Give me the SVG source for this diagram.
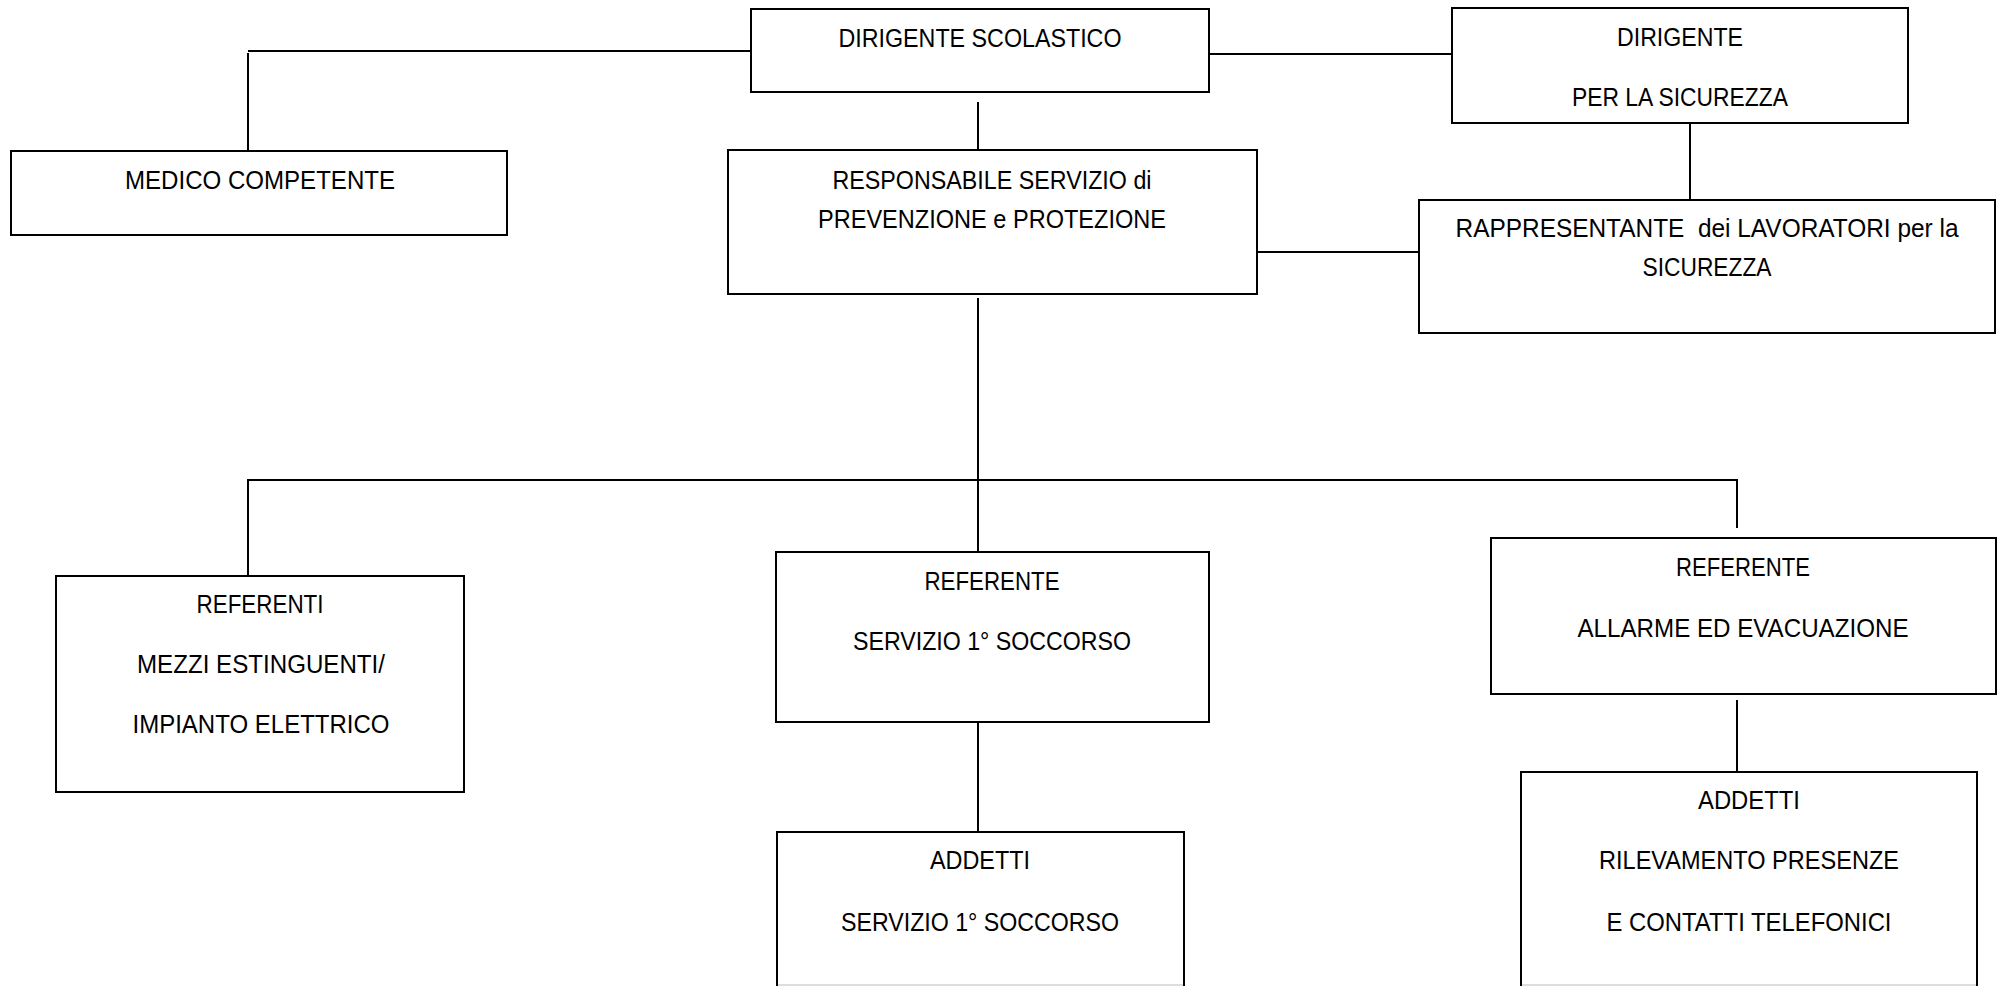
<svg xmlns="http://www.w3.org/2000/svg" width="2004" height="986" viewBox="0 0 2004 986">
<style>
.box{fill:#fff;stroke:#000;stroke-width:2}
.ln{stroke:#000;stroke-width:2;fill:none}
.t{font-family:"Liberation Sans",Arial,sans-serif;font-size:26px;fill:#000;text-anchor:middle}
.edge{stroke:#ddd;stroke-width:2}
</style>
<rect width="2004" height="986" fill="#fff"/>
<g id="connectors">
<path class="ln" d="M751 51 H248 M248 53 V151"/>
<path class="ln" d="M1209 54 H1452"/>
<path class="ln" d="M978 102 V150"/>
<path class="ln" d="M1690 123 V200"/>
<path class="ln" d="M1257 252 H1419"/>
<path class="ln" d="M978 298 V552"/>
<path class="ln" d="M248 576 V480 H1737 V528"/>
<path class="ln" d="M978 722 V832"/>
<path class="ln" d="M1737 700 V772"/>
</g>
<g id="dirigente-scolastico">
<rect class="box" x="751" y="9" width="458" height="83"/>
<text class="t" x="980" y="47" textLength="283" lengthAdjust="spacingAndGlyphs">DIRIGENTE SCOLASTICO</text>
</g>
<g id="dirigente-sicurezza">
<rect class="box" x="1452" y="8" width="456" height="115"/>
<text class="t" x="1680" y="46" textLength="126" lengthAdjust="spacingAndGlyphs">DIRIGENTE</text>
<text class="t" x="1680" y="106" textLength="216" lengthAdjust="spacingAndGlyphs">PER LA SICUREZZA</text>
</g>
<g id="medico-competente">
<rect class="box" x="11" y="151" width="496" height="84"/>
<text class="t" x="260" y="189" textLength="270" lengthAdjust="spacingAndGlyphs">MEDICO COMPETENTE</text>
</g>
<g id="rspp">
<rect class="box" x="728" y="150" width="529" height="144"/>
<text class="t" x="992" y="189" textLength="319" lengthAdjust="spacingAndGlyphs">RESPONSABILE SERVIZIO di</text>
<text class="t" x="992" y="228" textLength="348" lengthAdjust="spacingAndGlyphs">PREVENZIONE e PROTEZIONE</text>
</g>
<g id="rls">
<rect class="box" x="1419" y="200" width="576" height="133"/>
<text class="t" x="1707" y="237" textLength="503" lengthAdjust="spacingAndGlyphs" xml:space="preserve">RAPPRESENTANTE  dei LAVORATORI per la</text>
<text class="t" x="1707" y="276" textLength="129" lengthAdjust="spacingAndGlyphs">SICUREZZA</text>
</g>
<g id="referenti-mezzi">
<rect class="box" x="56" y="576" width="408" height="216"/>
<text class="t" x="260" y="613" textLength="127" lengthAdjust="spacingAndGlyphs">REFERENTI</text>
<text class="t" x="261" y="673" textLength="248" lengthAdjust="spacingAndGlyphs">MEZZI ESTINGUENTI/</text>
<text class="t" x="261" y="733" textLength="257" lengthAdjust="spacingAndGlyphs">IMPIANTO ELETTRICO</text>
</g>
<g id="referente-soccorso">
<rect class="box" x="776" y="552" width="433" height="170"/>
<text class="t" x="992" y="590" textLength="135" lengthAdjust="spacingAndGlyphs">REFERENTE</text>
<text class="t" x="992" y="650" textLength="278" lengthAdjust="spacingAndGlyphs">SERVIZIO 1° SOCCORSO</text>
</g>
<g id="referente-allarme">
<rect class="box" x="1491" y="538" width="505" height="156"/>
<text class="t" x="1743" y="576" textLength="134" lengthAdjust="spacingAndGlyphs">REFERENTE</text>
<text class="t" x="1743" y="637" textLength="331" lengthAdjust="spacingAndGlyphs">ALLARME ED EVACUAZIONE</text>
</g>
<g id="addetti-soccorso">
<path class="ln" d="M777 990 V832 H1184 V990"/>
<line class="edge" x1="778" y1="985" x2="1183" y2="985"/>
<text class="t" x="980" y="869" textLength="100" lengthAdjust="spacingAndGlyphs">ADDETTI</text>
<text class="t" x="980" y="931" textLength="278" lengthAdjust="spacingAndGlyphs">SERVIZIO 1° SOCCORSO</text>
</g>
<g id="addetti-rilevamento">
<path class="ln" d="M1521 990 V772 H1977 V990"/>
<line class="edge" x1="1522" y1="985" x2="1976" y2="985"/>
<text class="t" x="1749" y="809" textLength="102" lengthAdjust="spacingAndGlyphs">ADDETTI</text>
<text class="t" x="1749" y="869" textLength="300" lengthAdjust="spacingAndGlyphs">RILEVAMENTO PRESENZE</text>
<text class="t" x="1749" y="931" textLength="285" lengthAdjust="spacingAndGlyphs">E CONTATTI TELEFONICI</text>
</g>
</svg>
